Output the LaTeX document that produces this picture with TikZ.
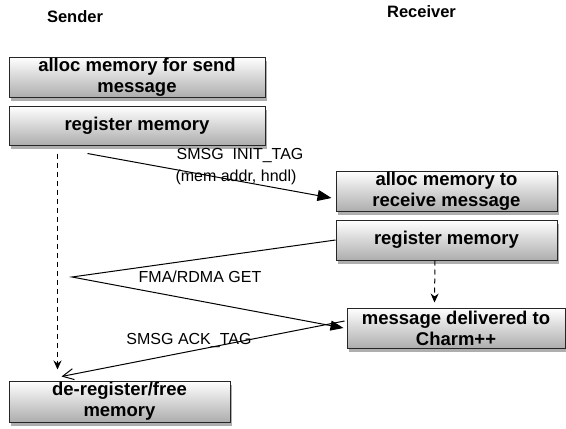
\documentclass[tikz,border=0pt]{standalone}
\usepackage{fontspec}
\setmainfont{Liberation Sans}
\usetikzlibrary{arrows.meta,shadows,calc}
\begin{document}
\begin{tikzpicture}[x=1pt,y=-1pt,
  box/.style={draw=black!85, line width=1pt, rectangle, inner sep=0pt,
    top color=white, bottom color=black!32,
    drop shadow={shadow xshift=2pt, shadow yshift=-3.5pt, opacity=0.45, fill=black!70},
    font=\fontsize{18.5}{21}\selectfont\bfseries, align=center},
  lbl/.style={font=\fontsize{16}{18}\selectfont, inner sep=0pt},
  head/.style={font=\fontsize{16.5}{19}\selectfont\bfseries, inner sep=0pt},
  msg/.style={line width=1pt},
  dashline/.style={line width=1pt, dash pattern=on 5pt off 4pt}
]
\useasboundingbox (0,0) rectangle (566,429);

\node[head] (sender) at (75,17) {Sender};
\node[head] (receiver) at (421.5,12) {Receiver};

\node[box, minimum width=256pt, minimum height=40pt] (b1) at (137,77) {alloc memory for send\\message};
\node[box, minimum width=256pt, minimum height=39pt] (b2) at (137,125.5) {register memory};
\node[box, minimum width=221pt, minimum height=40pt] (b3) at (446.5,191) {alloc memory to\\receive message};
\node[box, minimum width=221pt, minimum height=40pt] (b4) at (446.5,240) {register memory};
\node[box, minimum width=218pt, minimum height=40pt] (b5) at (456,328) {message delivered to\\Charm++};
\node[box, minimum width=221pt, minimum height=41pt] (b6) at (119.5,401.5) {de-register/free\\memory};

\coordinate (s0) at ($(b2.south west)+(49,8)$);
\coordinate (s1) at ($(b6.north west)+(49,-11)$);
\coordinate (i0) at ($(b2.south west)+(79,8)$);
\coordinate (g0) at (72,277);
\coordinate (a1) at ($(b6.north west)+(53,-4)$);
\coordinate (r0) at ($(b4.south)+(-11.5,0)$);
\coordinate (r1) at ($(b5.north west)+(88,-5)$);

% dashed lifelines
\draw[dashline, -{Stealth[length=9pt,width=8pt]}] (s0) -- (s1);
\draw[dashline, -{Stealth[length=9pt,width=8pt]}] (r0) -- (r1);

% messages
\draw[msg, -{Triangle[length=14pt,width=11pt]}] (i0) -- ([xshift=-4pt,yshift=-7pt]b3.west);
\draw[msg, -{Triangle[length=13pt,width=10pt]}] (b4.west) -- (g0) -- ([xshift=-3pt]b5.west);
\draw[msg, -{Straight Barb[length=11pt,width=11pt]}] ([xshift=-2pt,yshift=7pt]b5.west) -- (a1);

\node[lbl] (l1) at (240,156) {SMSG\ \ INIT\_TAG};
\node[lbl] (l2) at (236,177) {(mem addr, hndl)};
\node[lbl] (l3) at (200,277) {FMA/RDMA GET};
\node[lbl] (l4) at (189,340) {SMSG ACK\_TAG};
\end{tikzpicture}
\end{document}
